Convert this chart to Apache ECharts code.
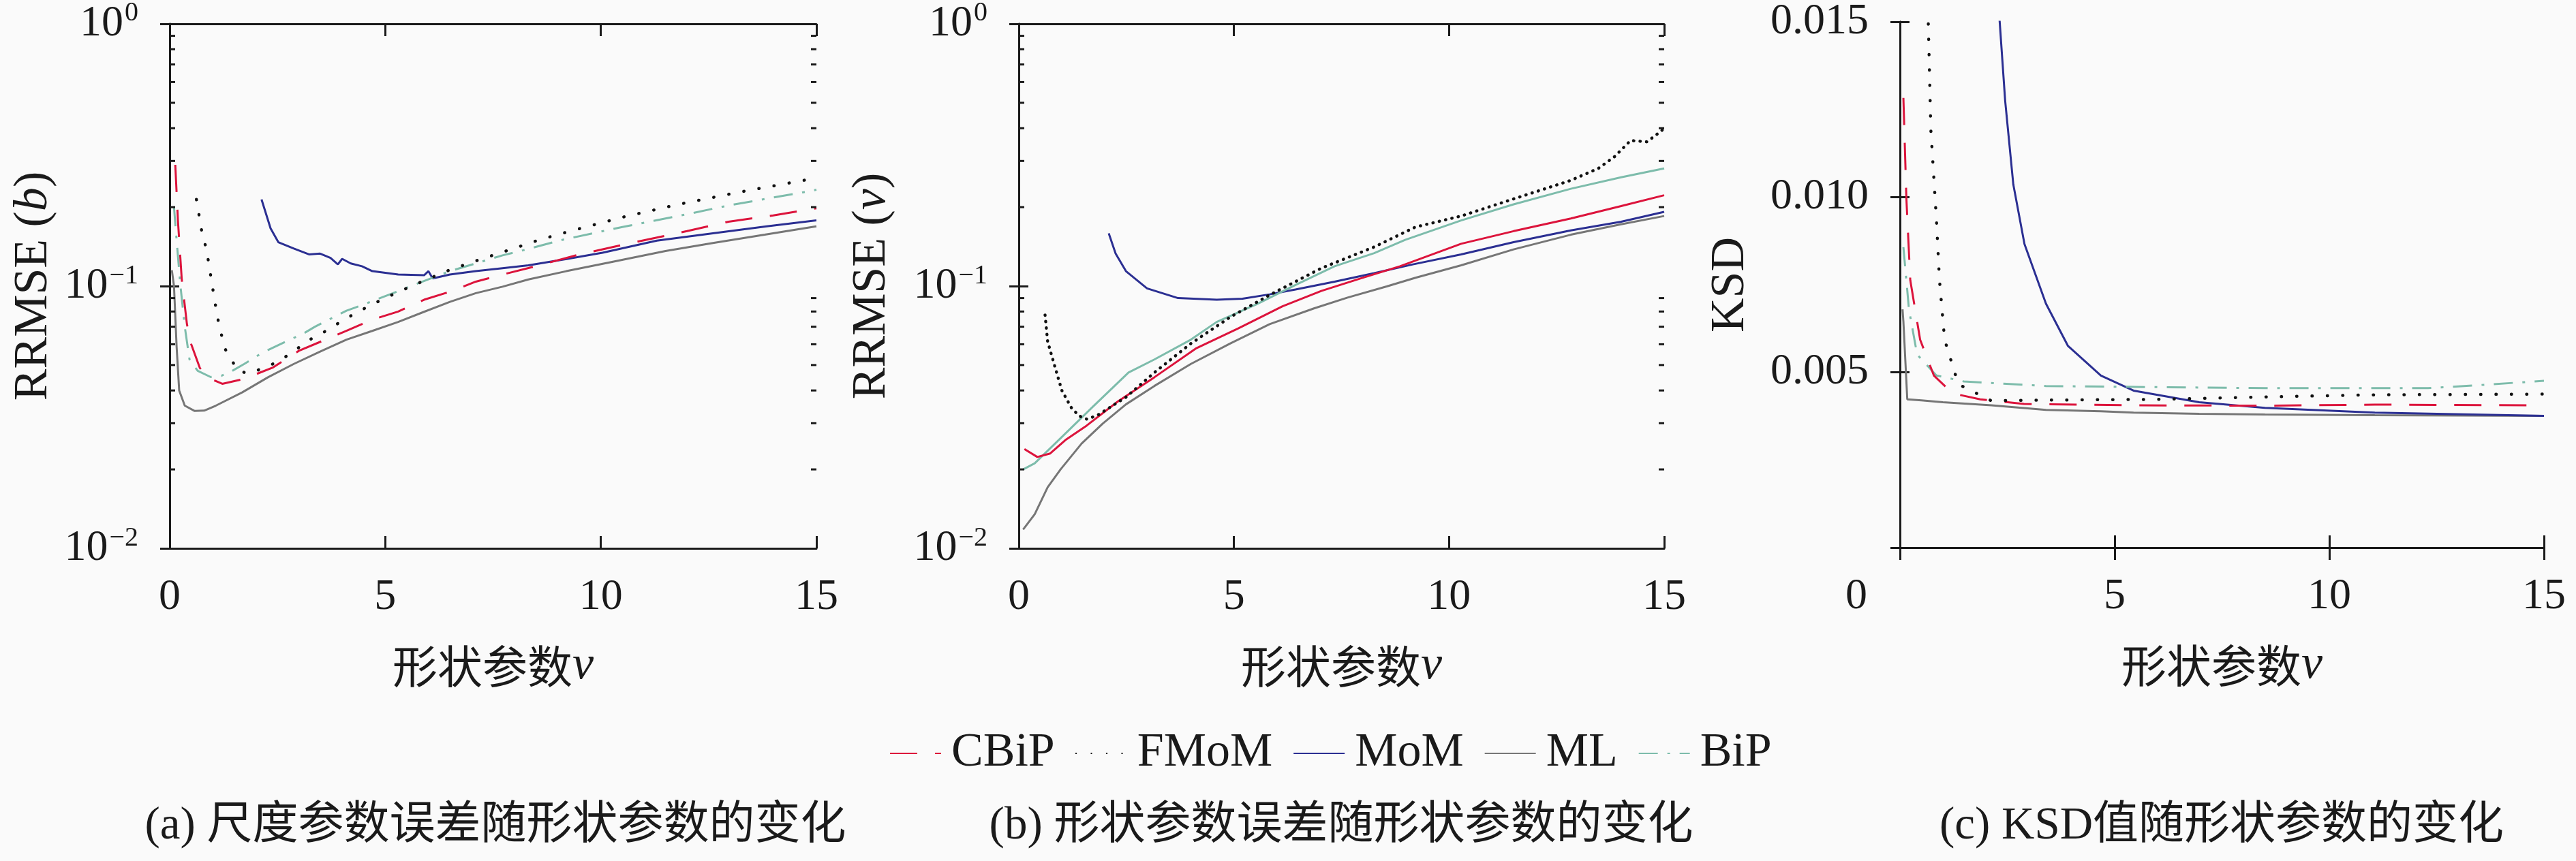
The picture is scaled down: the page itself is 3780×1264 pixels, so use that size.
<!DOCTYPE html>
<html lang="zh">
<head>
    <meta charset="UTF-8">
    <title>RRMSE / KSD vs shape parameter</title>
    <script src="https://cdn.jsdelivr.net/npm/echarts@6/dist/echarts.min.js"></script>
    <style>
        html, body { margin: 0; padding: 0; background: #fafafa; }
        #chart { width: 3780px; height: 1264px; }
    </style>
</head>
<body>
<div id="chart"></div>
<script>
    // ---- panel (a): RRMSE of scale b ----
    var aCBiPx = [0.13, 0.19, 0.28, 0.4, 0.5, 0.7, 0.95, 1.22, 1.73, 2.4, 3.0, 4.1, 4.7, 5.3, 5.9, 6.5, 7.1, 7.72, 8.4, 9.5, 10.7, 12.0, 12.96, 14.0, 15];
    var aCBiPy = [0.29, 0.179, 0.106, 0.0716, 0.060, 0.0487, 0.0443, 0.0424, 0.0443, 0.049, 0.0567, 0.0675, 0.0745, 0.080, 0.0887, 0.0952, 0.104, 0.1107, 0.118, 0.132, 0.146, 0.162, 0.176, 0.186, 0.198];
    var aFMoMx = [0.62, 0.76, 0.85, 0.95, 1.04, 1.14, 1.28, 1.43, 1.58, 1.85, 2.46, 2.76, 3.25, 3.54, 4.1, 4.66, 5.24, 5.85, 6.42, 7.05, 7.97, 8.57, 9.23, 10.5, 11.8, 13.2, 14.7, 15];
    var aFMoMy = [0.214, 0.156, 0.139, 0.110, 0.0887, 0.0716, 0.0578, 0.0525, 0.0475, 0.0464, 0.051, 0.0547, 0.0625, 0.0662, 0.0754, 0.0846, 0.094, 0.104, 0.114, 0.124, 0.139, 0.150, 0.161, 0.183, 0.205, 0.228, 0.253, 0.258];
    var aMoMx = [2.13, 2.34, 2.52, 2.88, 3.24, 3.49, 3.73, 3.9, 4.0, 4.2, 4.46, 4.7, 5.3, 5.9, 6.0, 6.1, 6.5, 7.1, 7.72, 8.32, 9.23, 10.04, 11.3, 12.6, 13.85, 15];
    var aMoMy = [0.214, 0.166, 0.147, 0.139, 0.132, 0.133, 0.128, 0.121, 0.127, 0.122, 0.119, 0.114, 0.1107, 0.110, 0.114, 0.107, 0.1107, 0.114, 0.117, 0.120, 0.127, 0.134, 0.149, 0.159, 0.169, 0.178];
    var aMLx = [0.05, 0.1, 0.16, 0.22, 0.35, 0.58, 0.8, 1.07, 1.68, 2.28, 2.88, 3.49, 4.1, 4.7, 5.3, 5.9, 6.5, 7.1, 7.72, 8.32, 9.2, 10.3, 11.5, 12.6, 13.8, 15];
    var aMLy = [0.115, 0.1, 0.059, 0.040, 0.035, 0.0334, 0.0335, 0.035, 0.0393, 0.0449, 0.0505, 0.0563, 0.0625, 0.0675, 0.073, 0.0798, 0.0871, 0.094, 0.0995, 0.106, 0.114, 0.124, 0.136, 0.146, 0.157, 0.169];
    var aBiPx = [0.1, 0.16, 0.25, 0.35, 0.46, 0.65, 0.95, 1.2, 1.43, 1.73, 2.15, 2.58, 3.12, 3.37, 4.1, 4.46, 5.18, 5.66, 6.5, 7.72, 8.2, 9.1, 10.5, 12.0, 12.96, 14.7, 15];
    var aBiPy = [0.2, 0.15, 0.1, 0.07, 0.0525, 0.0475, 0.045, 0.0455, 0.0473, 0.0505, 0.0557, 0.0602, 0.0662, 0.070, 0.0806, 0.0846, 0.094, 0.101, 0.114, 0.131, 0.137, 0.150, 0.168, 0.188, 0.203, 0.228, 0.233];

    // ---- panel (b): RRMSE of shape nu ----
    var bCBiPx = [0.13, 0.43, 0.73, 1.1, 1.58, 2.31, 3.15, 4.13, 5.1, 6.13, 7.03, 7.95, 8.86, 10.28, 11.5, 12.83, 14.0, 15];
    var bCBiPy = [0.0239, 0.0223, 0.0230, 0.026, 0.0294, 0.0364, 0.0449, 0.058, 0.069, 0.0838, 0.0958, 0.107, 0.119, 0.145, 0.162, 0.181, 0.202, 0.222];
    var bFMoMx = [0.61, 0.67, 0.82, 1.0, 1.22, 1.4, 1.58, 1.82, 2.49, 3.15, 4.0, 4.91, 5.83, 7.03, 8.26, 9.22, 10.28, 11.5, 12.83, 13.47, 13.85, 14.22, 14.6, 14.93, 15];
    var bFMoMy = [0.0776, 0.0615, 0.0505, 0.040, 0.0344, 0.032, 0.0311, 0.0321, 0.0377, 0.0468, 0.0604, 0.0761, 0.0925, 0.117, 0.141, 0.168, 0.185, 0.215, 0.253, 0.281, 0.312, 0.359, 0.355, 0.390, 0.40];
    var bMoMx = [2.09, 2.25, 2.49, 2.98, 3.7, 4.6, 5.2, 5.83, 6.43, 7.34, 8.26, 9.16, 10.28, 11.5, 12.83, 14.0, 15];
    var bMoMy = [0.159, 0.133, 0.114, 0.098, 0.090, 0.0887, 0.0895, 0.093, 0.097, 0.104, 0.112, 0.121, 0.132, 0.147, 0.163, 0.176, 0.192];
    var bMLx = [0.1, 0.37, 0.67, 0.97, 1.46, 1.95, 2.49, 3.15, 4.0, 4.91, 5.83, 6.86, 7.64, 8.55, 9.22, 10.28, 11.5, 12.83, 14.0, 15];
    var bMLy = [0.0118, 0.0135, 0.0171, 0.020, 0.0251, 0.0299, 0.0354, 0.0416, 0.0505, 0.0604, 0.0716, 0.0822, 0.0904, 0.0997, 0.1076, 0.120, 0.138, 0.157, 0.172, 0.185];
    var bBiPx = [0.1, 0.37, 0.97, 1.7, 2.55, 3.15, 4.0, 4.6, 5.52, 6.43, 7.34, 8.26, 8.98, 10.28, 11.5, 12.83, 14.0, 15];
    var bBiPy = [0.020, 0.0211, 0.0263, 0.0344, 0.0468, 0.0525, 0.0625, 0.073, 0.0852, 0.101, 0.119, 0.1335, 0.150, 0.178, 0.205, 0.235, 0.26, 0.281];

    // ---- panel (c): KSD ----
    var cCBiPx = [0.08, 0.15, 0.24, 0.47, 0.79, 1.23, 1.87, 2.89, 5.44, 8.5, 11.06, 15];
    var cCBiPy = [0.01283, 0.00994, 0.00763, 0.00593, 0.00491, 0.0044, 0.00423, 0.0041, 0.00406, 0.00405, 0.00408, 0.00406];
    var cFMoMx = [0.6, 0.66, 0.72, 0.85, 0.92, 1.04, 1.36, 2.13, 3.4, 6.0, 8.5, 11.06, 15];
    var cFMoMy = [0.018, 0.01496, 0.0119, 0.00934, 0.00763, 0.00593, 0.00466, 0.00419, 0.00421, 0.00423, 0.0043, 0.00436, 0.00438];
    var cMoMx = [2.1, 2.32, 2.45, 2.64, 2.9, 3.4, 3.91, 4.68, 5.44, 6.97, 8.5, 11.06, 15];
    var cMoMy = [0.02, 0.01505, 0.01275, 0.01036, 0.00866, 0.00696, 0.00576, 0.00491, 0.00448, 0.00415, 0.00399, 0.00385, 0.00376];
    var cMLx = [0.06, 0.08, 0.17, 0.5, 1.0, 2.13, 3.4, 4.68, 5.44, 6.97, 8.5, 11.06, 15];
    var cMLy = [0.0068, 0.00645, 0.00423, 0.0042, 0.00415, 0.00406, 0.00393, 0.00389, 0.00385, 0.00382, 0.0038, 0.00378, 0.00376];
    var cBiPx = [0.08, 0.21, 0.4, 0.85, 1.49, 3.4, 8.5, 12.3, 13.8, 14.76, 15];
    var cBiPy = [0.00857, 0.00679, 0.00551, 0.00491, 0.00474, 0.00461, 0.00455, 0.00455, 0.00466, 0.00474, 0.00476];

    var names = ['CBiP', 'FMoM', 'MoM', 'ML', 'BiP'];
    var minorTickVals = [0.02, 0.03, 0.04, 0.05, 0.06, 0.07, 0.08, 0.09, 0.2, 0.3, 0.4, 0.5, 0.6, 0.7, 0.8, 0.9];
    var captions = ['(a) 尺度参数误差随形状参数的变化', '(b) 形状参数误差随形状参数的变化', '(c) KSD值随形状参数的变化'];

    var FONT = "'Liberation Serif', 'DejaVu Serif', 'Noto Sans CJK SC', serif";
    var INK = '#1a1a1a';
    var colors = {CBiP: '#dc143c', FMoM: '#111111', MoM: '#2b2f92', ML: '#767676', BiP: '#7dbcab'};

    function pairs(xs, ys) {
        return xs.map(function (x, i) { return [x, ys[i]]; });
    }

    var grids = [
        {left: 249, top: 14, width: 949, height: 791},
        {left: 1495, top: 14, width: 947, height: 791},
        {left: 2788, top: 14, width: 945, height: 790}
    ];

    function logLabel(v) {
        var e = Math.round(Math.log10(v));
        return '{b|10}{e|' + (e === 0 ? '0' : '\u2212' + (-e)) + '}';
    }

    var logRich = {
        b: {fontSize: 64, fontFamily: FONT, color: INK, lineHeight: 70},
        e: {fontSize: 40, fontFamily: FONT, color: INK, verticalAlign: 'top', padding: [0, 0, 0, 2]}
    };

    var xAxes = [], yAxes = [];
    grids.forEach(function (g, gi) {
        var isLog = gi < 2;
        xAxes.push({
            gridIndex: gi, type: 'value', position: 'bottom', min: 0, max: 15, interval: 5,
            axisLine: {lineStyle: {color: INK, width: 3}},
            axisTick: {inside: true, length: 18, lineStyle: {color: INK, width: 3}},
            splitLine: {show: false},
            axisLabel: {
                margin: 40, fontSize: 64, fontFamily: FONT, color: INK,
                formatter: gi === 2 ? function (v) { return v === 0 ? '{s|0}' : String(v); } : '{value}',
                rich: {s: {fontSize: 64, fontFamily: FONT, color: INK, padding: [0, 128, 0, 0]}}
            },
            name: '{c|形状参数}{v|ν}', nameLocation: 'middle', nameGap: 138,
            nameTextStyle: {
                rich: {
                    c: {fontSize: 66, fontFamily: "'Noto Sans CJK SC'", color: INK},
                    v: {fontSize: 70, fontFamily: FONT, fontStyle: 'italic', color: INK}
                }
            }
        });
        xAxes.push({
            gridIndex: gi, type: 'value', position: 'top', min: 0, max: 15, interval: 5,
            axisLine: {lineStyle: {color: INK, width: 3}},
            axisTick: {inside: true, length: 18, lineStyle: {color: INK, width: 3}},
            axisLabel: {show: false}, splitLine: {show: false}
        });
        var yName = gi === 0 ? 'RRMSE ({i|b})' : (gi === 1 ? 'RRMSE ({i|ν})' : 'KSD');
        var yGap = [164, 180, 213][gi];
        var yLeft = {
            gridIndex: gi, position: 'left',
            axisLine: {show: true, lineStyle: {color: INK, width: 3}},
            axisTick: {show: true, inside: true, length: 14, lineStyle: {color: INK, width: 3}},
            splitLine: {show: false},
            name: yName, nameLocation: 'middle', nameGap: yGap,
            nameTextStyle: {
                fontSize: 70, fontFamily: FONT, color: INK,
                rich: {i: {fontSize: 70, fontFamily: FONT, fontStyle: 'italic', color: INK}}
            }
        };
        var yRight = {
            gridIndex: gi, position: 'right',
            axisLine: {show: true, lineStyle: {color: INK, width: 3}},
            axisTick: {show: true, inside: true, length: 14, lineStyle: {color: INK, width: 3}},
            axisLabel: {show: false}, splitLine: {show: false}
        };
        if (isLog) {
            [yLeft, yRight].forEach(function (y) {
                y.type = 'log'; y.logBase = 10; y.min = 0.01; y.max = 1;
            });
            yLeft.axisLabel = {margin: 46, formatter: logLabel, rich: logRich};
        } else {
            [yLeft, yRight].forEach(function (y) {
                y.type = 'value'; y.min = 0; y.max = 0.015; y.interval = 0.005;
            });
            yLeft.axisLabel = {
                margin: 46, fontSize: 64, fontFamily: FONT, color: INK,
                formatter: function (v) { return v === 0 ? '' : v.toFixed(3); }
            };
        }
        yAxes.push(yLeft, yRight);
    });

    var panelData = [
        {CBiP: pairs(aCBiPx, aCBiPy), FMoM: pairs(aFMoMx, aFMoMy), MoM: pairs(aMoMx, aMoMy), ML: pairs(aMLx, aMLy), BiP: pairs(aBiPx, aBiPy)},
        {CBiP: pairs(bCBiPx, bCBiPy), FMoM: pairs(bFMoMx, bFMoMy), MoM: pairs(bMoMx, bMoMy), ML: pairs(bMLx, bMLy), BiP: pairs(bBiPx, bBiPy)},
        {CBiP: pairs(cCBiPx, cCBiPy), FMoM: pairs(cFMoMx, cFMoMy), MoM: pairs(cMoMx, cMoMy), ML: pairs(cMLx, cMLy), BiP: pairs(cBiPx, cBiPy)}
    ];

    function lineStyleFor(name, gi) {
        var s = {color: colors[name], width: 3};
        if (name === 'FMoM') {
            s.width = 4.5; s.cap = 'round';
            s.type = gi === 1 ? [0.5, 9] : [0.5, 22];
        } else if (name === 'CBiP' && gi !== 1) {
            s.type = [40, 26];
        } else if (name === 'BiP' && gi !== 1) {
            s.type = [28, 14, 4, 14];
        } else {
            s.type = 'solid';
        }
        return s;
    }

    var series = [];
    // draw order: ML, MoM, BiP, CBiP, FMoM on top
    ['ML', 'MoM', 'BiP', 'CBiP', 'FMoM'].forEach(function (name) {
        for (var gi = 0; gi < 3; gi++) {
            series.push({
                name: name, type: 'line', xAxisIndex: gi * 2, yAxisIndex: gi * 2,
                data: panelData[gi][name], showSymbol: false, symbol: 'none',
                clip: true, silent: true, z: 3,
                lineStyle: lineStyleFor(name, gi), itemStyle: {color: colors[name]}
            });
        }
    });

    // minor ticks on the log axes (left and right edges)
    [0, 1].forEach(function (gi) {
        series.push({
            type: 'custom', xAxisIndex: gi * 2, yAxisIndex: gi * 2, silent: true, z: 4,
            data: minorTickVals.map(function (v) { return [0, v]; }),
            renderItem: function (params, api) {
                var v = api.value(1);
                var l = api.coord([0, v]);
                var r = api.coord([15, v]);
                var st = {stroke: INK, lineWidth: 3};
                return {
                    type: 'group',
                    children: [
                        {type: 'line', shape: {x1: l[0], y1: l[1], x2: l[0] + 8, y2: l[1]}, style: st},
                        {type: 'line', shape: {x1: r[0], y1: r[1], x2: r[0] - 8, y2: r[1]}, style: st}
                    ]
                };
            }
        });
    });

    var captionX = [727, 1968, 3260];
    var graphics = captions.map(function (t, i) {
        return {
            type: 'text', x: captionX[i], y: 1213, silent: true,
            style: {text: t, align: 'center', verticalAlign: 'middle', fontSize: 67, fontFamily: FONT, fill: INK}
        };
    });

    var chart = echarts.init(document.getElementById('chart'));
    chart.setOption({
        backgroundColor: '#fafafa',
        animation: false,
        grid: grids,
        xAxis: xAxes,
        yAxis: yAxes,
        legend: {
            data: names, left: 1300, top: 1066, itemWidth: 75, itemHeight: 14, itemGap: 30,
            itemStyle: {opacity: 0},
            textStyle: {fontSize: 70, fontFamily: FONT, color: INK, padding: [0, 0, 0, 10]}
        },
        graphic: graphics,
        series: series
    });
</script>
</body>
</html>
